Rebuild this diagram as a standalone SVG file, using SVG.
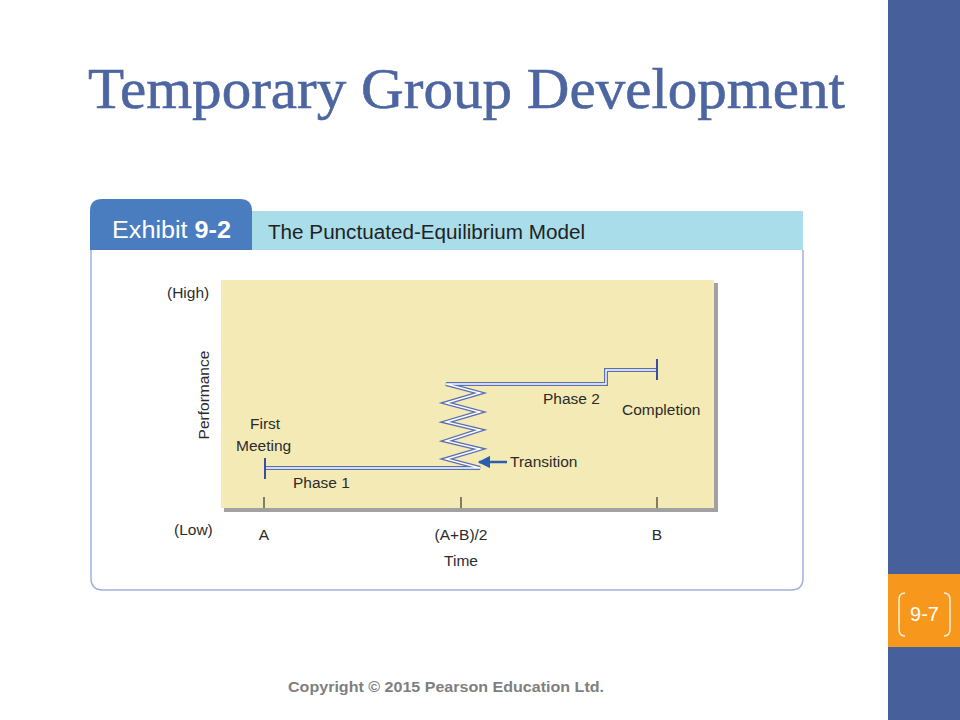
<svg xmlns="http://www.w3.org/2000/svg" width="960" height="720" viewBox="0 0 960 720">
<defs>
<style>
.lbl{font-family:"Liberation Sans","DejaVu Sans",sans-serif;font-size:15.5px;fill:#2b2b2b}
.tick{stroke:#333;stroke-width:1.2}
.dblo{fill:none;stroke:#5b6fb3;stroke-width:4;stroke-linejoin:miter}
.dbli{fill:none;stroke:#ffffff;stroke-width:1.4;stroke-linejoin:miter}
</style>
<marker id="ah" viewBox="0 0 10 10" refX="9" refY="5" markerWidth="5" markerHeight="5" orient="auto"><path d="M0,0 L10,5 L0,10 z" fill="#2a5db0"/></marker>
</defs>
<rect width="960" height="720" fill="#ffffff"/>
<g id="sidebar">
<rect x="888" y="0" width="72" height="720" fill="#475f9b"/>
<rect x="888" y="574" width="72" height="73" fill="#f7981d"/>
<path d="M905,593 Q899,593 899,600 L899,629 Q899,636 905,636" fill="none" stroke="#fdf0d8" stroke-width="1.5"/>
<path d="M944,593 Q950,593 950,600 L950,629 Q950,636 944,636" fill="none" stroke="#fdf0d8" stroke-width="1.5"/>
<text x="924.5" y="621" text-anchor="middle" font-family="Liberation Sans,Arial,sans-serif" font-size="20" fill="#ffffff">9-7</text>
</g>
<g id="title">
<text x="88" y="108" font-family="Liberation Serif,'Times New Roman',serif" font-size="58" fill="#4d66a1" stroke="#4d66a1" stroke-width="0.6" textLength="757" lengthAdjust="spacingAndGlyphs">Temporary Group Development</text>
</g>
<g id="exhibit">
<path d="M91,250 L91,578 Q91,590 103,590 L791,590 Q803,590 803,578 L803,250" fill="#ffffff" stroke="#a3b0db" stroke-width="1.5"/>
<rect x="252" y="211" width="551" height="39" fill="#a9dde9"/>
<path d="M90,250 L90,211 Q90,199 102,199 L240,199 Q252,199 252,211 L252,250 Z" fill="#4a7cc0"/>
<text x="112" y="238" font-family="Liberation Sans,Arial,sans-serif" font-size="23" fill="#ffffff" textLength="119" lengthAdjust="spacingAndGlyphs">Exhibit <tspan font-weight="bold">9-2</tspan></text>
<text x="268" y="239" font-family="Liberation Sans,Arial,sans-serif" font-size="19.5" fill="#222222" textLength="317" lengthAdjust="spacingAndGlyphs">The Punctuated-Equilibrium Model</text>
</g>
<g id="chart">
<rect x="224" y="283" width="494" height="229" fill="#8a8a8a" opacity="0.8"/>
<rect x="221" y="280" width="493" height="228" fill="#f4eab5"/>
<line class="tick" x1="264" y1="497" x2="264" y2="508"/>
<line class="tick" x1="461" y1="497" x2="461" y2="508"/>
<line class="tick" x1="657" y1="497" x2="657" y2="508"/>
</g>
<g id="connectors">
<path class="dblo" d="M265,468 L480,468 L446,459 L480,449 L446,441 L480,430 L446,422 L480,412 L446,403 L480,393 L446,384 L606,384 L606,370 L657,370"/>
<path class="dbli" d="M265,468 L480,468 L446,459 L480,449 L446,441 L480,430 L446,422 L480,412 L446,403 L480,393 L446,384 L606,384 L606,370 L657,370"/>
<line x1="265" y1="458" x2="265" y2="479" stroke="#3a4fa0" stroke-width="2"/>
<line x1="657" y1="359" x2="657" y2="380" stroke="#3a4fa0" stroke-width="2"/>
<line x1="507" y1="462" x2="479" y2="462" stroke="#2a5db0" stroke-width="2.5" marker-end="url(#ah)"/>
</g>
<g id="labels">
<text class="lbl" x="167" y="298">(High)</text>
<text class="lbl" x="209" y="395" text-anchor="middle" transform="rotate(-90 209 395)">Performance</text>
<text class="lbl" x="250" y="429">First</text>
<text class="lbl" x="236" y="451">Meeting</text>
<text class="lbl" x="293" y="488">Phase 1</text>
<text class="lbl" x="543" y="404">Phase 2</text>
<text class="lbl" x="622" y="415">Completion</text>
<text class="lbl" x="510" y="467">Transition</text>
<text class="lbl" x="174" y="535">(Low)</text>
<text class="lbl" x="264" y="540" text-anchor="middle">A</text>
<text class="lbl" x="461" y="540" text-anchor="middle">(A+B)/2</text>
<text class="lbl" x="461" y="566" text-anchor="middle">Time</text>
<text class="lbl" x="657" y="540" text-anchor="middle">B</text>
</g>
<g id="footer">
<text x="288" y="692" font-family="Liberation Sans,Arial,sans-serif" font-size="15" font-weight="bold" fill="#7f7f7f" textLength="316" lengthAdjust="spacingAndGlyphs">Copyright © 2015 Pearson Education Ltd.</text>
</g>
</svg>
